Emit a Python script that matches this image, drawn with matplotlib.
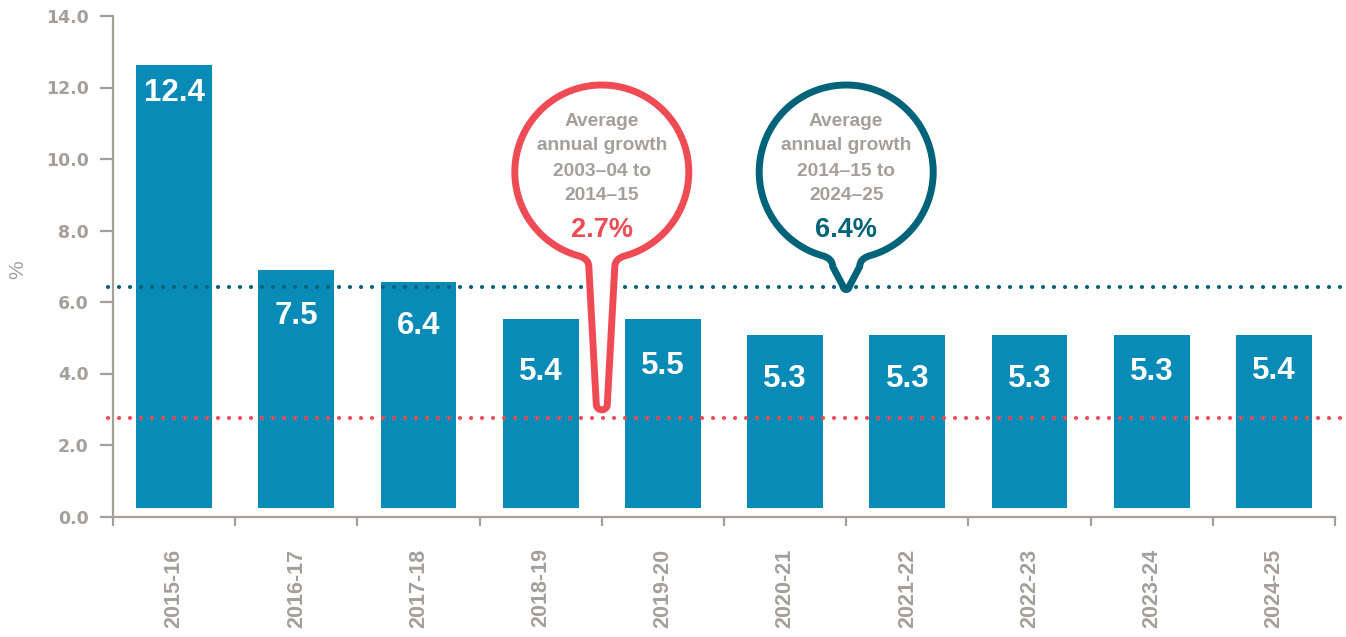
import numpy as np
import matplotlib
matplotlib.use("Agg")
import matplotlib.pyplot as plt
from matplotlib.path import Path
from matplotlib.patches import PathPatch
from matplotlib.transforms import Affine2D

# ---------------- data ----------------
years = ["2015-16", "2016-17", "2017-18", "2018-19", "2019-20",
         "2020-21", "2021-22", "2022-23", "2023-24", "2024-25"]
bar_tops = [12.63, 6.90, 6.56, 5.52, 5.52, 5.08, 5.08, 5.08, 5.08, 5.08]
bar_base = 0.23
bar_labels = ["12.4", "7.5", "6.4", "5.4", "5.5", "5.3", "5.3", "5.3", "5.3", "5.4"]
avg_old = 2.76          # 2003-04 to 2014-15
avg_new = 6.42          # 2014-15 to 2024-25
avg_old_label = "2.7%"
avg_new_label = "6.4%"
avg_old_period = ["2003–04 to", "2014–15"]
avg_new_period = ["2014–15 to", "2024–25"]
y_ticks = [0, 2, 4, 6, 8, 10, 12, 14]

# ---------------- style ----------------
W, H = 1346, 637
BAR = "#088BB7"
TEAL = "#00637A"
RED = "#EF4B55"
GREY = "#A59F9A"
label_offsets_pt = [-20, -33, -32, -38, -34, -32, -32, -32, -27, -26]

fig = plt.figure(figsize=(W / 100, H / 100), dpi=100)
ax = fig.add_axes([113 / W, (H - 516.5) / H, (1335 - 113) / W, (516.5 - 16) / H])

x = np.arange(len(years))
heights = np.array(bar_tops) - bar_base
ax.bar(x, heights, bottom=bar_base, width=0.62, color=BAR, zorder=2)

for xi, top, lab, off in zip(x, bar_tops, bar_labels, label_offsets_pt):
    ax.annotate(lab, (xi, top), xytext=(0, off), textcoords="offset points",
                ha="center", va="center", color="white", fontsize=22.5,
                fontweight="bold", family="Liberation Sans", zorder=3)

ax.set_xlim(-0.5, len(years) - 0.5)
ax.set_ylim(0, 14)

for s in ["top", "right"]:
    ax.spines[s].set_visible(False)
for s in ["left", "bottom"]:
    ax.spines[s].set_color(GREY)
    ax.spines[s].set_linewidth(1.6)

ax.set_yticks(y_ticks)
ax.set_yticklabels([f"{v:.1f}" for v in y_ticks], fontsize=12.5,
                   fontweight="bold", color=GREY, family="DejaVu Sans")
ax.tick_params(axis="y", length=9.5, width=1.6, color=GREY, pad=8)

ax.set_xticks(x)
ax.set_xticklabels(years, rotation=90, fontsize=15.5, color=GREY,
                   fontweight="bold", family="Liberation Sans", va="top")
ax.tick_params(axis="x", which="major", length=0, pad=23)
ax.set_xticks(np.arange(-0.5, len(years), 1), minor=True)
ax.tick_params(axis="x", which="minor", length=6.5, width=1.6, color=GREY)

dot = (0, (0.01, 2.63))
for val, col in [(avg_new, TEAL), (avg_old, RED)]:
    ax.axhline(val, xmin=-0.004, xmax=1.01, color=col, lw=3, linestyle=dot,
               dash_capstyle="round", clip_on=False, zorder=4)

fig.text(18 / W, 1 - 270 / H, "%", rotation=90, ha="center", va="center",
         fontsize=15, color=GREY, family="Liberation Sans")

# ---------------- balloons ----------------
pix = Affine2D().scale(1 / W, -1 / H).translate(0, 1) + fig.transFigure


def balloon(xdata, ydata, color, tip_shift, w1, wt, lines, pct):
    dx, dy = ax.transData.transform((xdata, ydata))
    cx = dx
    ty = H - dy + tip_shift
    cy, R = 172.0, 87.0
    f = 10.0
    th0 = np.arcsin((w1 + f) / R)
    verts, codes = [], []
    ths = np.linspace(th0, 2 * np.pi - th0, 200)
    for i, th in enumerate(ths):
        verts.append((cx - R * np.sin(th), cy + R * np.cos(th)))
        codes.append(Path.MOVETO if i == 0 else Path.LINETO)

    def ctrl(side):
        px, py = cx + side * R * np.sin(th0), cy + R * np.cos(th0)
        t = (R * np.sin(th0) - w1) / np.cos(th0)
        c = (cx + side * w1, py + t * np.sin(th0))
        q = (cx + side * w1, c[1] + 8)
        return (px, py), c, q

    pr, cr, qr = ctrl(+1)
    pl, cl, ql = ctrl(-1)
    verts += [cr, qr]
    codes += [Path.CURVE3, Path.CURVE3]
    tcy = ty - wt
    verts.append((cx + wt, tcy))
    codes.append(Path.LINETO)
    for ph in np.linspace(0, np.pi, 30)[1:]:
        verts.append((cx + wt * np.cos(ph), tcy + wt * np.sin(ph)))
        codes.append(Path.LINETO)
    verts.append(ql)
    codes.append(Path.LINETO)
    verts += [cl, pl]
    codes += [Path.CURVE3, Path.CURVE3]
    verts.append(pl)
    codes.append(Path.CLOSEPOLY)
    patch = PathPatch(Path(verts, codes), facecolor="white", edgecolor=color,
                      lw=5, transform=pix, zorder=5, joinstyle="round")
    fig.add_artist(patch)

    texts = ["Average", "annual growth"] + lines
    for t, yy in zip(texts, [121, 146, 171, 196]):
        fig.text(cx / W, 1 - yy / H, t, ha="center", va="center",
                 fontsize=13.8, fontweight="bold", color=GREY,
                 family="Liberation Sans", zorder=6)
    fig.text(cx / W, 1 - 230 / H, pct, ha="center", va="center",
             fontsize=19.5, fontweight="bold", color=color,
             family="Liberation Sans", zorder=6)


balloon(3.5, avg_old, RED, -8, 13, 5.5, avg_old_period, avg_old_label)
balloon(5.5, avg_new, TEAL, 2.5, 13.5, 3.0, avg_new_period, avg_new_label)

fig.savefig("out.png", dpi=100)
